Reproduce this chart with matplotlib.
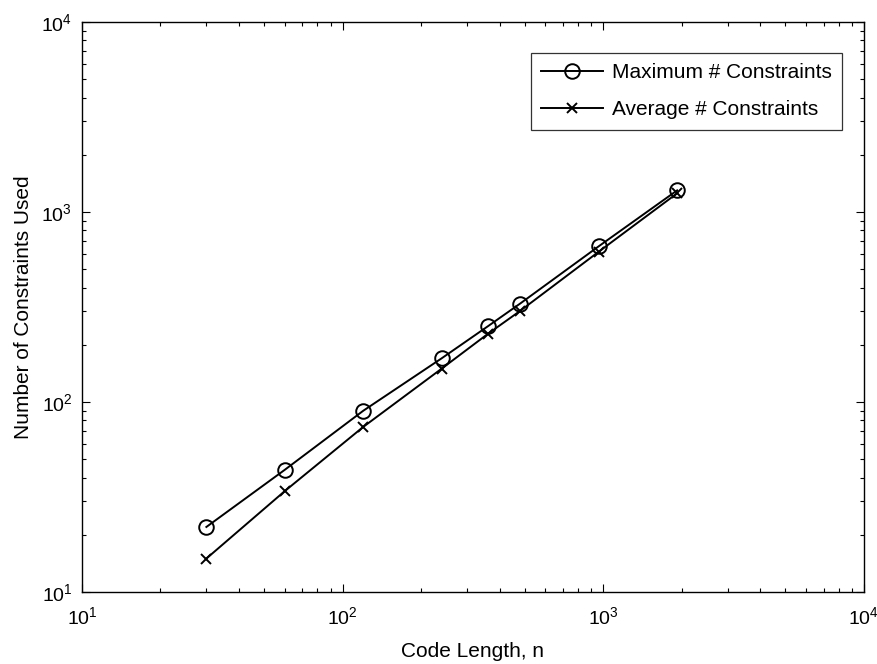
import numpy as np
import matplotlib
matplotlib.use("Agg")
import matplotlib.pyplot as plt
import matplotlib.transforms as mtransforms

plt.rcParams['font.family'] = ['Liberation Sans', 'DejaVu Sans']

# data
code_length = [30, 60, 120, 240, 360, 480, 960, 1920]
max_constraints = [22, 44, 90, 170, 250, 330, 660, 1300]
avg_constraints = [15, 34, 74, 150, 228, 302, 618, 1255]

fig = plt.figure(figsize=(8.78, 6.64), dpi=100)
ax = fig.add_axes([0.0934, 0.1084, 0.8906, 0.8584])

ax.loglog(code_length, max_constraints, color='black', lw=1.4, marker='o',
          markersize=10.5, markerfacecolor='none', markeredgewidth=1.4,
          label='Maximum # Constraints')
ax.loglog(code_length, avg_constraints, color='black', lw=1.4, marker='x',
          markersize=7, markeredgewidth=1.4, label='Average # Constraints')

ax.set_xlim(10, 1e4)
ax.set_ylim(10, 1e4)
ax.set_xlabel('Code Length, n', fontsize=15, labelpad=10)
ax.set_ylabel('Number of Constraints Used', fontsize=15)
ax.yaxis.set_label_coords(-0.063, 0.5)

ax.tick_params(which='both', direction='in', top=True, right=True, labelsize=14)
ax.tick_params(which='major', length=6, width=0.8)
ax.tick_params(which='minor', length=3, width=0.8)
ax.tick_params(axis='x', which='major', pad=10)
ax.tick_params(axis='y', which='major', pad=7)
for s in ax.spines.values():
    s.set_linewidth(1.0)

leg = ax.legend(loc='upper right', bbox_to_anchor=(0.972, 0.9456), fontsize=15,
                frameon=True, fancybox=False, edgecolor='black', handlelength=3.0,
                borderpad=0.5, labelspacing=0.85, handletextpad=0.4,
                borderaxespad=0)
leg.get_frame().set_linewidth(0.9)

# keep the 10^4 label inside the canvas
fig.canvas.draw()
last = ax.get_xticklabels()[-1]
last.set_transform(last.get_transform() +
                   mtransforms.ScaledTranslation(-2 / 72, 0, fig.dpi_scale_trans))

fig.savefig('out.png', dpi=100)
